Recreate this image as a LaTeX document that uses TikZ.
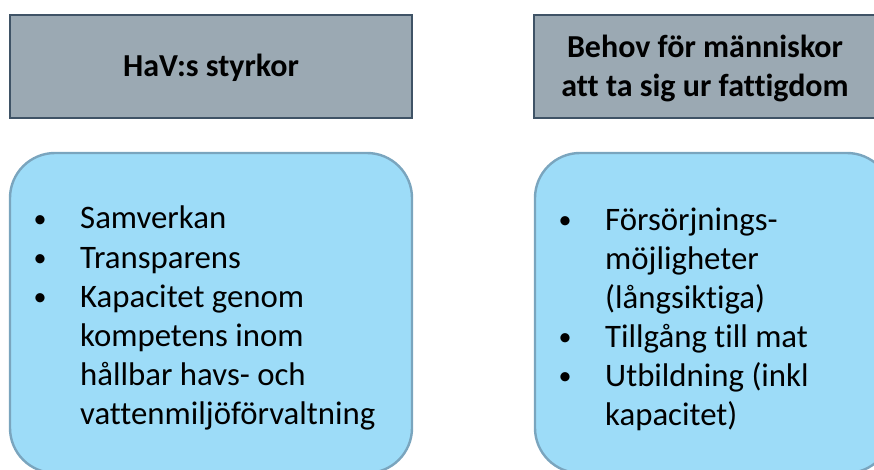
\documentclass[tikz,border=0pt]{standalone}
\usepackage{fontspec}
\setmainfont[Ligatures={NoCommon}]{Carlito}
\definecolor{hdrfill}{HTML}{9BA9B3}
\definecolor{hdrline}{HTML}{3F5366}
\definecolor{boxfill}{HTML}{9DDCF8}
\definecolor{boxline}{HTML}{7AA5BE}
\begin{document}
\begin{tikzpicture}[x=1pt,y=-1pt,
  hdr/.style={fill=hdrfill,draw=hdrline,line width=2.6pt},
  bluebox/.style={fill=boxfill,draw=boxline,line width=2.4pt,rounded corners=45pt},
  hdrtext/.style={font=\fontsize{32}{39}\selectfont\bfseries,text=black,inner sep=0pt,anchor=base},
  bodytext/.style={font=\fontsize{32.8}{39}\selectfont,text=black,inner sep=0pt,anchor=base west},
  bul/.style={font=\fontsize{26}{39}\selectfont,text=black,inner sep=0pt,anchor=base}]
\useasboundingbox (0,0) rectangle (874,470);
\begin{scope}
\clip (0,0) rectangle (874,470);
% headers
\draw[hdr] (10,15) rectangle (412,118);
\draw[hdr] (534,15) rectangle (878,118);
% blue boxes
\draw[bluebox] (10,153) rectangle (412,473);
\draw[bluebox] (535,153) rectangle (892,473);
\end{scope}
\node[hdrtext] (h1) at (211,77) {HaV:s styrkor};
\node[hdrtext] (h2a) at (705,58) {Behov för människor};
\node[hdrtext] (h2b) at (705,97) {att ta sig ur fattigdom};
% left list
\node[bul] (lb1) at (40,227) {•};
\node[bul] (lb2) at (40,266) {•};
\node[bul] (lb3) at (40,305) {•};
\node[bodytext] (lt1) at (80,229) {Samverkan};
\node[bodytext] (lt2) at (80,268) {Transparens};
\node[bodytext] (lt3) at (80,307) {Kapacitet genom};
\node[bodytext] (lt4) at (80,346) {kompetens inom};
\node[bodytext] (lt5) at (80,385) {hållbar havs- och};
\node[bodytext] (lt6) at (80,424) {vattenmiljöförvaltning};
% right list
\node[bul] (rb1) at (565,228) {•};
\node[bul] (rb2) at (565,345) {•};
\node[bul] (rb3) at (565,384) {•};
\node[bodytext] (rt1) at (605,230) {Försörjnings-};
\node[bodytext] (rt2) at (605,269) {möjligheter};
\node[bodytext] (rt3) at (605,308) {(långsiktiga)};
\node[bodytext] (rt4) at (605,347) {Tillgång till mat};
\node[bodytext] (rt5) at (605,386) {Utbildning (inkl};
\node[bodytext] (rt6) at (605,425) {kapacitet)};
\end{tikzpicture}
\end{document}
